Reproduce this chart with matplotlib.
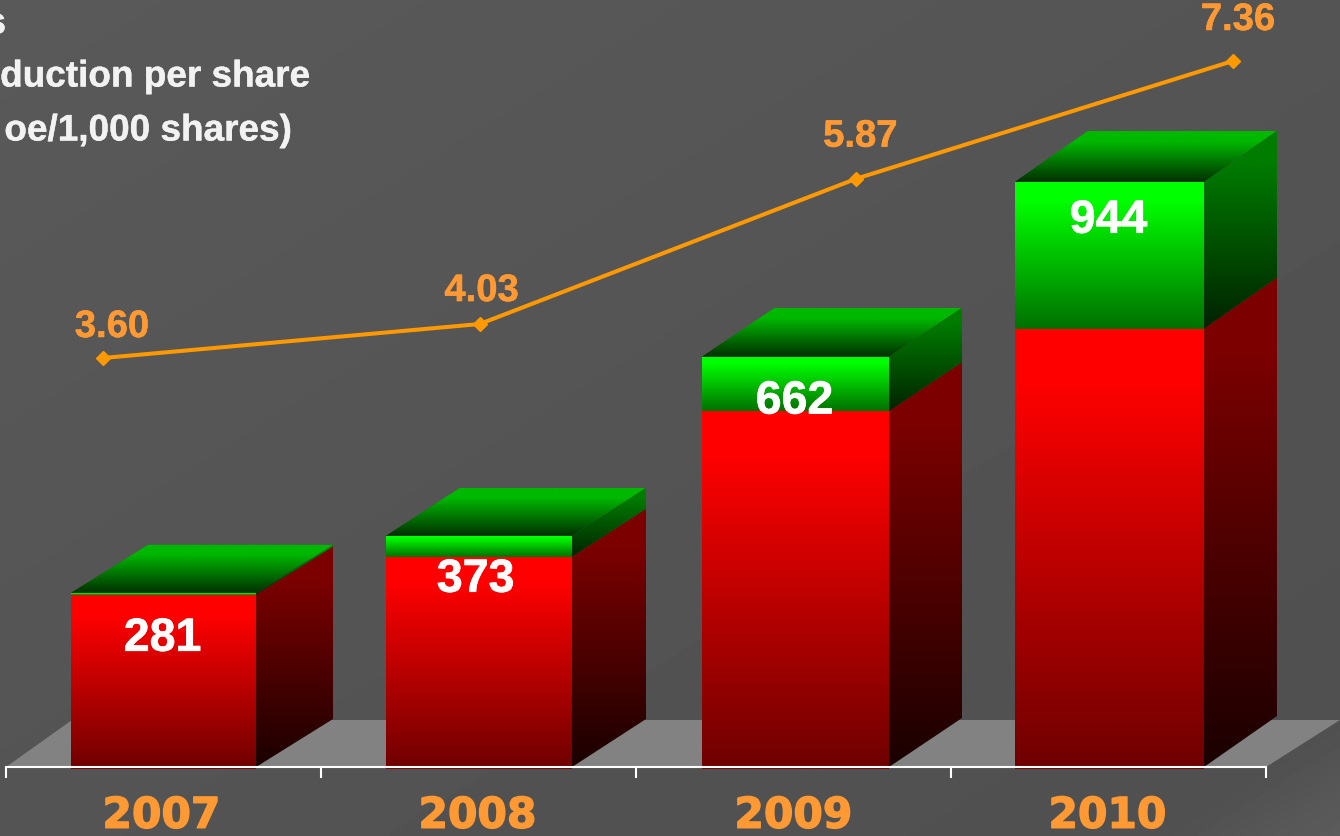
#!/usr/bin/env python
"""Stacked pseudo-3D bars of reserves with production-per-share line on top."""

import matplotlib
matplotlib.use("Agg")
import matplotlib.patheffects as pe
import matplotlib.pyplot as plt
import numpy as np
from matplotlib.colors import LinearSegmentedColormap
from matplotlib.patches import Polygon

years = ["2007", "2008", "2009", "2010"]
red_values = [278, 339, 574, 707]
totals = [281, 373, 662, 944]
per_share = [3.60, 4.03, 5.87, 7.36]
title_lines = ["s", "duction per share", "oe/1,000 shares)"]

ORANGE_TXT = "#FF9933"
ORANGE_LINE = "#FF9900"
W, H = 1340, 836
BASE_PX = 767.0
PX_PER_UNIT = 0.62
X_SCALE = 315.0
FLOOR_DY_PX = 47.0

# pixel tweaks per bar, the source bars are not quite even
bar_w_px = [185, 186, 187, 189]
bar_shift_px = [0, 0.5, 2, 1]
bar_dx_px = [77, 74, 73, 73]
bar_dy_px = [48, 48, 49, 51]
year_shift_px = [-2, -1, 0, -1]


def gradient(ax, poly, y0, y1, c_low, c_high, hold=0.0):
    """Fill polygon with vertical gradient from c_low (y0) to c_high (y1)."""
    cmap = LinearSegmentedColormap.from_list("g", [(0, c_low), (1 - hold, c_high), (1, c_high)])
    xs = [p[0] for p in poly]
    im = ax.imshow(np.linspace(0, 1, 256)[:, None], cmap=cmap, origin="lower", aspect="auto",
                   extent=(min(xs), max(xs), y0, y1), zorder=2, interpolation="bilinear")
    clip = Polygon(poly, closed=True, transform=ax.transData, fc="none", ec="none")
    ax.add_patch(clip)
    im.set_clip_path(clip)


def heavy(color, w=0.5):
    return [pe.withStroke(linewidth=w, foreground=color)]


fig = plt.figure(figsize=(W / 100, H / 100), dpi=100)
plt.rcParams["font.family"] = ["Liberation Sans", "DejaVu Sans"]

# background, slightly lighter at the top left and in the last corner
bg = fig.add_axes([0, 0, 1, 1])
bg.axis("off")
gx, gy = np.meshgrid(np.linspace(0, 1, 200), np.linspace(0, 1, 200))
shade = 0.35 - 0.04 * (gx * 0.5 + gy * 0.5) + 0.05 * np.clip(gx * 0.6 + gy * 0.6 - 1.12, 0, 0.08) / 0.08
bg.imshow(shade, cmap="gray", vmin=0, vmax=1, aspect="auto")

# bars: x is the category index, y the value
ax = fig.add_axes([0, 0, 1, 1])
ax.patch.set_alpha(0)
x = np.arange(len(years))

floor_dy = FLOOR_DY_PX / PX_PER_UNIT
floor = [(-0.5, 0), (3.5, 0), (3.5 + 74 / X_SCALE, floor_dy), (-0.5 + 66 / X_SCALE, floor_dy)]
ax.add_patch(Polygon(floor, closed=True, fc="#828282", ec="none", zorder=1))

for xi, red, tot, bw, shift, dx_px, dy_px in zip(x, red_values, totals, bar_w_px, bar_shift_px, bar_dx_px, bar_dy_px):
    l = xi + (shift - bw / 2) / X_SCALE
    r = xi + (shift + bw / 2) / X_SCALE
    dx = dx_px / X_SCALE
    dy = dy_px / PX_PER_UNIT
    under = -3

    # front faces
    gradient(ax, [(l, under), (r, under), (r, red), (l, red)], under, red, "#6e0000", "#ff0000", 0.12)
    gradient(ax, [(l, red), (r, red), (r, tot), (l, tot)], red, tot, "#007000", "#00ff00", 0.12)

    # side faces
    gradient(ax, [(r, 0), (r + dx, dy), (r + dx, red + dy), (r, red)], 0, red + dy, "#1a0000", "#7c0000", 0.15)
    gradient(ax, [(r, red), (r + dx, red + dy), (r + dx, tot + dy), (r, tot)], red, tot + dy, "#002200", "#007c00", 0.15)

    # top face
    gradient(ax, [(l, tot), (r, tot), (r + dx, tot + dy), (l + dx, tot + dy)], tot, tot + dy, "#003000", "#00b800", 0.2)

label_drop = [46, 44, 45, 39]
label_shift = [-1, -3, 1, 0]
for xi, tot, drop, shift in zip(x, totals, label_drop, label_shift):
    ax.text(xi + shift / X_SCALE, tot - drop / PX_PER_UNIT, str(tot), ha="center", va="center",
            color="white", fontsize=33.5, fontweight="bold", zorder=5, path_effects=heavy("white", 0.5))

ax.set_xlim(-163.5 / X_SCALE, (W - 163.5) / X_SCALE)
ax.set_ylim(-(H - BASE_PX) / PX_PER_UNIT, BASE_PX / PX_PER_UNIT)
for name in ["top", "left", "right"]:
    ax.spines[name].set_visible(False)
ax.spines["bottom"].set_position(("data", 0))
ax.spines["bottom"].set_bounds(-0.5, 3.5)
ax.spines["bottom"].set_color("white")
ax.spines["bottom"].set_linewidth(1.5)
ax.spines["bottom"].set_zorder(4)
ax.set_yticks([])
ax.set_xticks(x + np.array(year_shift_px) / X_SCALE, years, fontfamily="DejaVu Sans", fontweight="bold",
              path_effects=heavy(ORANGE_TXT, 1.0))
ax.set_xticks(np.arange(-0.5, 4), minor=True)
ax.tick_params(axis="x", which="major", length=0, pad=20, labelsize=30.5, labelcolor=ORANGE_TXT)
ax.tick_params(axis="x", which="minor", length=8, width=1.5, color="white")

# line has its own scale
ax2 = fig.add_axes([0, 0, 1, 1])
ax2.patch.set_alpha(0)
ax2.axis("off")
ax2.plot(x, per_share, color=ORANGE_LINE, lw=2.9, marker="D", ms=7, solid_capstyle="round")
ax2.set_xlim(-103 / 376.67, (W - 103) / 376.67)
ax2.set_ylim(3.60 - (H - 358) / 79.0, 3.60 + 358 / 79.0)
offs = [(9, 31), (2, 33), (4, 42), (5, 41)]
for xi, v, (ox, oy) in zip(x, per_share, offs):
    ax2.annotate(f"{v:.2f}", (xi, v), xytext=(ox * 0.72, oy * 0.72), textcoords="offset points",
                 ha="center", va="center", color=ORANGE_TXT, fontsize=27.5, fontweight="bold",
                 path_effects=heavy(ORANGE_TXT, 0.4))

# title runs off the left edge in the source picture
title_end_px = [6, 310, 292]
title_y_px = [24, 77, 131]
for line, end_px, y_px in zip(title_lines, title_end_px, title_y_px):
    fig.text(end_px / W, 1 - y_px / H, line, ha="right", va="center", color="#F2F2F2",
             fontsize=26.6, fontweight="bold", path_effects=heavy("#F2F2F2", 0.3))

fig.savefig("out.png", dpi=100)
